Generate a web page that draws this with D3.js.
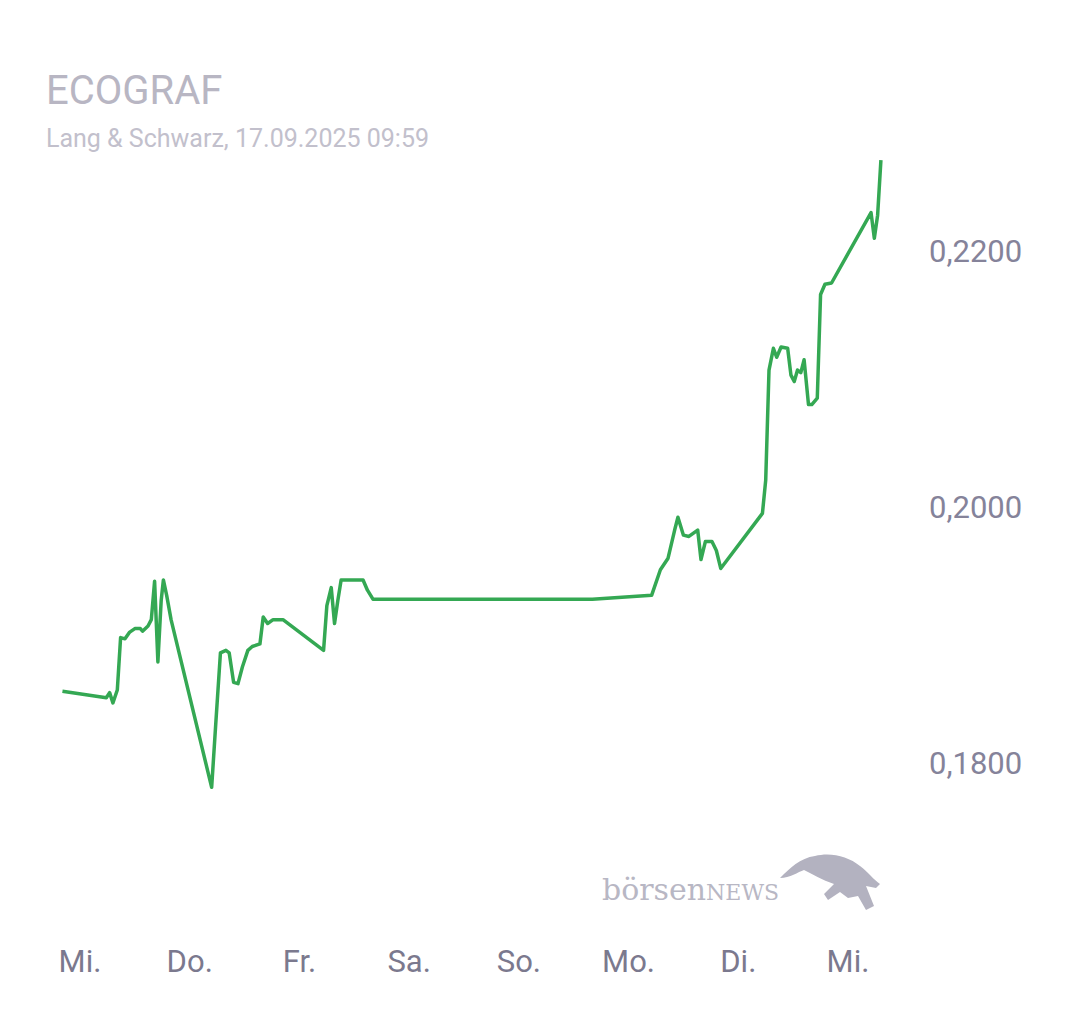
<!DOCTYPE html>
<html><head><meta charset="utf-8">
<script src="https://cdn.jsdelivr.net/npm/d3@7"></script>
<style>body{margin:0;background:#fff;font-family:Roboto,sans-serif}</style>
</head><body><div id="chart"></div>
<script>
var days = [-0.16,0.24,0.27,0.30,0.34,0.37,0.41,0.45,0.50,0.55,0.57,0.62,0.65,0.68,0.71,0.74,0.76,0.79,0.83,1.20,1.24,1.28,1.33,1.36,1.40,1.44,1.48,1.53,1.57,1.64,1.67,1.71,1.76,1.85,2.22,2.25,2.29,2.32,2.35,2.38,2.58,2.62,2.67,4.67,5.21,5.29,5.36,5.42,5.45,5.50,5.55,5.63,5.66,5.70,5.76,5.80,5.84,6.22,6.25,6.28,6.32,6.35,6.39,6.45,6.48,6.51,6.54,6.57,6.60,6.64,6.67,6.72,6.75,6.79,6.85,7.21,7.24,7.27,7.30];
var prices = [0.1856,0.1851,0.1855,0.1847,0.1857,0.1898,0.1897,0.1902,0.1905,0.1905,0.1903,0.1907,0.1912,0.1942,0.1879,0.1927,0.1943,0.1931,0.1912,0.1781,0.1834,0.1886,0.1888,0.1886,0.1863,0.1862,0.1875,0.1888,0.1891,0.1893,0.1914,0.1909,0.1912,0.1912,0.1888,0.1923,0.1937,0.1909,0.1927,0.1943,0.1943,0.1935,0.1928,0.1928,0.1931,0.1951,0.1960,0.1982,0.1992,0.1978,0.1977,0.1982,0.1959,0.1973,0.1973,0.1966,0.1952,0.1995,0.2021,0.2107,0.2124,0.2117,0.2125,0.2124,0.2103,0.2098,0.2107,0.2105,0.2115,0.2080,0.2080,0.2085,0.2166,0.2174,0.2175,0.2230,0.2210,0.2228,0.2271];
var dayLabels = ["Mi.","Do.","Fr.","Sa.","So.","Mo.","Di.","Mi."];
var yTicks = [0.18,0.20,0.22];

var width = 1080, height = 1013;
var svg = d3.select("#chart").append("svg").attr("width", width).attr("height", height);

var x = d3.scaleLinear().domain([0, 7]).range([80, 848]);
var y = d3.scaleLinear().domain([0.18, 0.22]).range([763, 251]);

svg.append("text").attr("x", 46).attr("y", 104).attr("font-size", 40)
  .attr("fill", "#b8b6c3").text("ECOGRAF");
svg.append("text").attr("x", 46).attr("y", 147).attr("font-size", 25)
  .attr("fill", "#c2c0cc").text("Lang & Schwarz, 17.09.2025 09:59");

// y labels
svg.selectAll(".ytick").data(yTicks).enter().append("text")
  .attr("x", 929).attr("y", d => y(d) + 11).attr("font-size", 31)
  .attr("fill", "#85839a")
  .text(d => d3.format(".4f")(d).replace(".", ","));

// x labels
svg.selectAll(".xtick").data(dayLabels).enter().append("text")
  .attr("x", (d, i) => x(i)).attr("y", 972).attr("text-anchor", "middle")
  .attr("font-size", 31).attr("fill", "#7b798e").text(d => d);

// watermark
svg.append("text").attr("x", 602).attr("y", 900).attr("font-family", "DejaVu Serif, serif")
  .attr("font-size", 30).attr("fill", "#b8b7c4").text("börsen")
  .append("tspan").attr("font-size", 22).text("NEWS");
svg.append("path")
  .attr("d", "M780,878 C790,868 800,858 815,856 C830,852 848,856 860,866 C868,872 874,880 880,884 L876,888 L866,886 L874,906 L866,910 L858,896 L848,898 L840,892 L828,900 L824,894 L834,884 C822,880 812,874 804,870 C798,872 790,878 780,878 Z")
  .attr("fill", "#b3b2c0");

// line
var line = d3.line().x((d, i) => x(days[i])).y(d => y(d));
svg.append("path").datum(prices).attr("d", line)
  .attr("fill", "none").attr("stroke", "#34a853").attr("stroke-width", 3.5)
  .attr("stroke-linejoin", "round");
</script></body></html>
